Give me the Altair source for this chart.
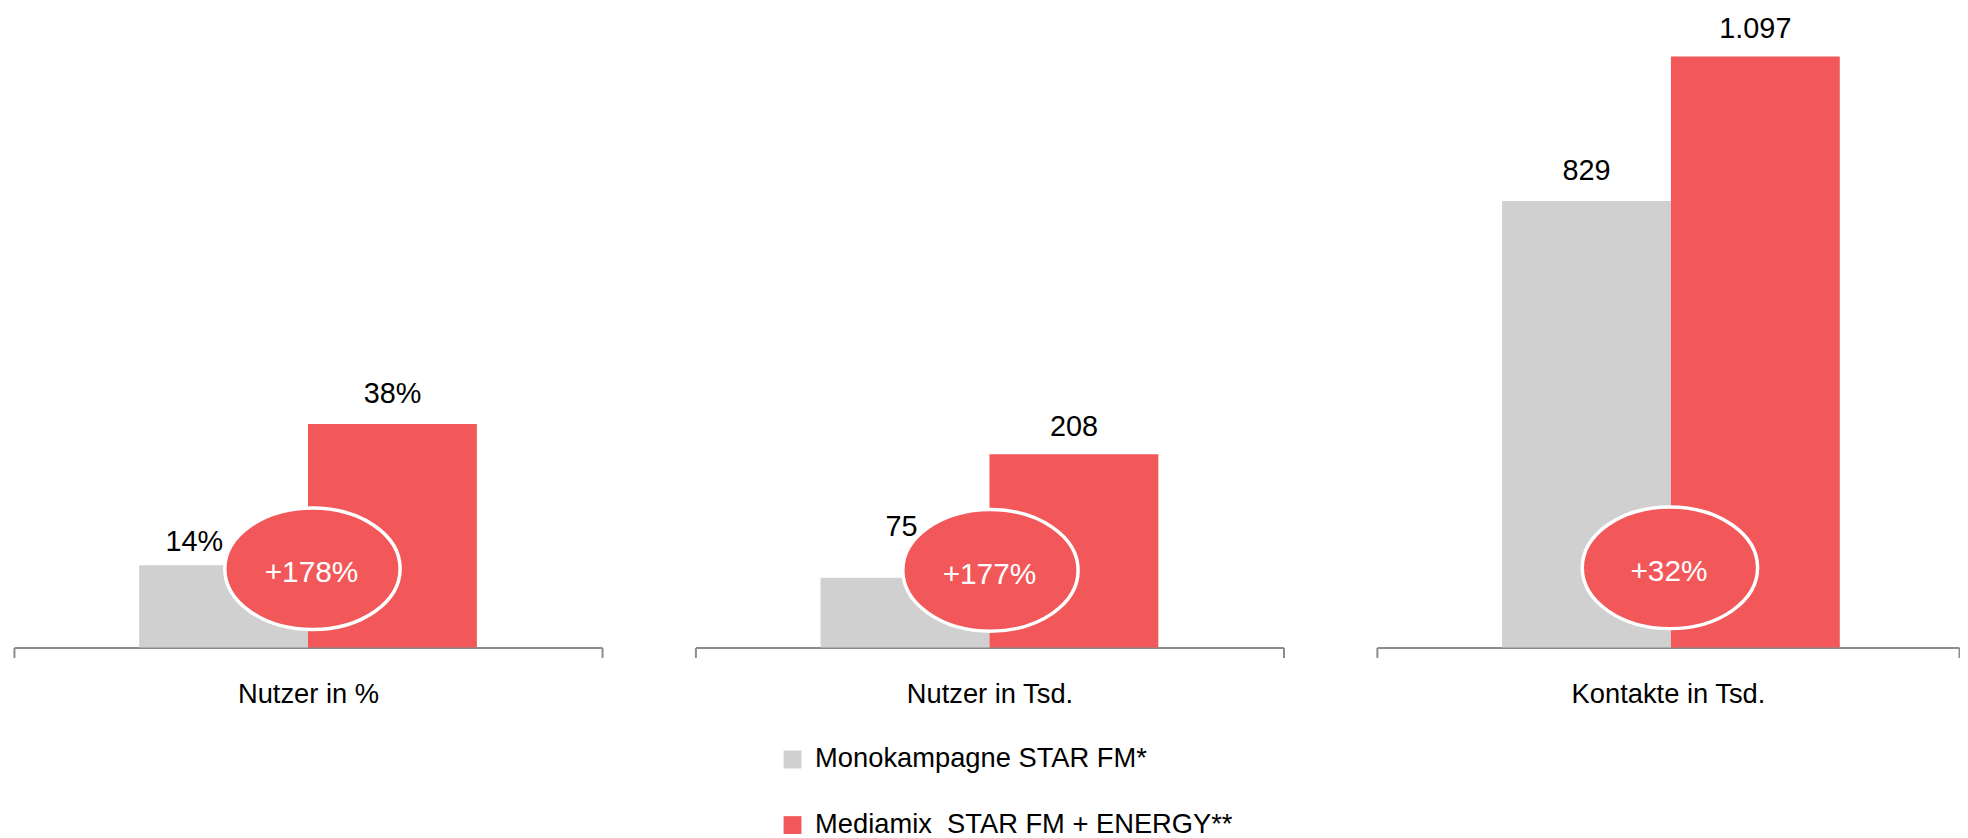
import altair as alt
import pandas as pd

# ---- data ----
categories = ["Nutzer in %", "Nutzer in Tsd.", "Kontakte in Tsd."]
series = ["Monokampagne STAR FM*", "Mediamix\u00a0 STAR FM + ENERGY**"]
mono_values = [14, 75, 829]
mix_values = [38, 208, 1097]
mono_labels = ["14%", "75", "829"]
mix_labels = ["38%", "208", "1.097"]
uplift_labels = ["+178%", "+177%", "+32%"]
uplift_anchor = [13.4, 83, 148]   # badge centre, in each panel's own units

# ---- styles ----
GRAY = "#D0D0D0"
RED = "#F2585A"
AXIS = "#8C8C8C"
FONT = "Liberation Sans"
ELLIPSE = "M -1 0 A 1 0.694 0 1 0 1 0 A 1 0.694 0 1 0 -1 0 Z"
PANEL_H = 641
BAR_W = 170

panel_style = [
    dict(w=592, ymax=108.3, mono_dx=-29.5, mono_dy=-14, mix_dy=-21, badge_dx=4.5),
    dict(w=592, ymax=685, mono_dx=-3.5, mono_dy=-42, mix_dy=-18, badge_dx=1),
    dict(w=586, ymax=1182, mono_dx=0, mono_dy=-21, mix_dy=-19, badge_dx=2),
]

legend = alt.Legend(
    title=None, orient="none", legendX=770, legendY=740,
    symbolType="square", symbolSize=324, symbolStrokeWidth=0,
    labelFont=FONT, labelFontSize=27.5, labelColor="black",
    labelOffset=9, rowPadding=37, padding=0, labelLimit=0,
    direction="vertical",
)


def panel(i, st):
    df = pd.DataFrame({
        "cat": [categories[i]] * 2,
        "series": series,
        "value": [mono_values[i], mix_values[i]],
        "label": [mono_labels[i], mix_labels[i]],
    })
    badge = pd.DataFrame({
        "cat": [categories[i]],
        "anchor": [uplift_anchor[i]],
        "label": [uplift_labels[i]],
    })
    x = alt.X(
        "cat:N", title=None,
        scale=alt.Scale(paddingInner=0, paddingOuter=0),
        axis=alt.Axis(
            domainColor=AXIS, domainWidth=2, ticks=True, tickBand="extent",
            tickSize=10, tickColor=AXIS, tickWidth=2,
            labelFont=FONT, labelFontSize=27.5, labelColor="black",
            labelPadding=45, labelBaseline="alphabetic", labelAngle=0,
            grid=False, labelLimit=0,
        ),
    )
    pad_outer = (st["w"] / BAR_W - 2) / 2
    xo = alt.XOffset("series:N", sort=series,
                     scale=alt.Scale(paddingInner=0, paddingOuter=pad_outer))
    yscale = alt.Scale(domain=[0, st["ymax"]], nice=False, zero=True)
    y = alt.Y("value:Q", scale=yscale, axis=None)

    base = alt.Chart(df)
    bars = base.mark_bar().encode(
        x=x, xOffset=xo, y=y,
        color=alt.Color("series:N", sort=series,
                        scale=alt.Scale(domain=series, range=[GRAY, RED]),
                        legend=legend),
    )
    mono_txt = base.transform_filter(alt.datum.series == series[0]).mark_text(
        font=FONT, fontSize=29, color="black", baseline="alphabetic",
        dx=st["mono_dx"], dy=st["mono_dy"],
    ).encode(x=x, xOffset=xo, y=y, text="label:N")
    mix_txt = base.transform_filter(alt.datum.series == series[1]).mark_text(
        font=FONT, fontSize=29, color="black", baseline="alphabetic",
        dy=st["mix_dy"],
    ).encode(x=x, xOffset=xo, y=y, text="label:N")

    ybadge = alt.Y("anchor:Q", scale=yscale, axis=None)
    ell = alt.Chart(badge).mark_point(
        shape=ELLIPSE, size=31152, filled=True, fill=RED, stroke="white",
        strokeWidth=3.5, opacity=1, xOffset=st["badge_dx"],
    ).encode(x=x, y=ybadge)
    ell_txt = alt.Chart(badge).mark_text(
        font=FONT, fontSize=30, color="white", baseline="alphabetic",
        dy=13.5, dx=st["badge_dx"] - 1,
    ).encode(x=x, y=ybadge, text="label:N")

    return alt.layer(bars, ell, ell_txt, mono_txt, mix_txt).properties(
        width=st["w"], height=PANEL_H
    )


chart = alt.hconcat(
    *[panel(i, st) for i, st in enumerate(panel_style)], spacing=92
).properties(
    padding={"left": 5, "top": 0, "right": 0, "bottom": 0}
).configure_view(stroke=None)

chart.save("out.html", embed_options={"renderer": "svg", "actions": False})
